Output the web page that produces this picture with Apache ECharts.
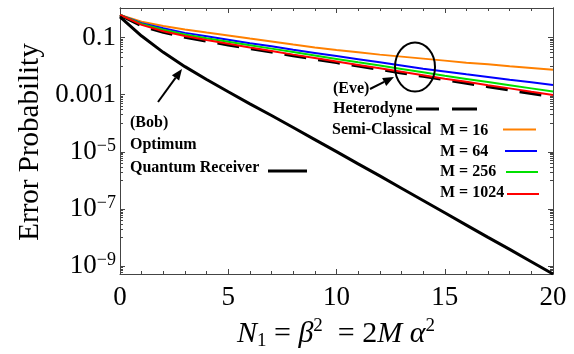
<!DOCTYPE html>
<html><head><meta charset="utf-8">
<script src="https://cdn.jsdelivr.net/npm/echarts@6/dist/echarts.min.js"></script>
<style>html,body{margin:0;padding:0;background:#fff}#c{width:574px;height:354px}</style>
</head><body><div id="c"></div>
<script>
// N1 sample points
const nValues = [0,1,2,3,4,5,6,7,8,9,10,11,12,13,14,15,16,17,18,19,20];
// log10(error probability)
const optimumLog10    = [-0.28,-0.95,-1.52,-2.02,-2.47,-2.90,-3.32,-3.73,-4.15,-4.57,-4.99,-5.42,-5.84,-6.27,-6.70,-7.13,-7.56,-7.99,-8.41,-8.84,-9.27];
const heterodyneLog10 = [-0.22,-0.60,-0.82,-0.99,-1.13,-1.26,-1.39,-1.51,-1.64,-1.76,-1.88,-2.00,-2.12,-2.24,-2.36,-2.48,-2.60,-2.72,-2.84,-2.96,-3.08];
const m16Log10   = [-0.21,-0.45,-0.60,-0.72,-0.83,-0.93,-1.04,-1.14,-1.25,-1.35,-1.44,-1.52,-1.60,-1.67,-1.74,-1.81,-1.88,-1.94,-2.01,-2.07,-2.13];
const m64Log10   = [-0.21,-0.50,-0.68,-0.84,-0.96,-1.08,-1.20,-1.31,-1.43,-1.54,-1.65,-1.76,-1.87,-1.98,-2.09,-2.19,-2.29,-2.38,-2.48,-2.57,-2.66];
const m256Log10  = [-0.21,-0.53,-0.73,-0.90,-1.03,-1.15,-1.27,-1.39,-1.51,-1.63,-1.75,-1.87,-1.98,-2.10,-2.22,-2.34,-2.45,-2.56,-2.67,-2.78,-2.89];
const m1024Log10 = [-0.21,-0.56,-0.78,-0.95,-1.09,-1.22,-1.35,-1.47,-1.60,-1.72,-1.84,-1.96,-2.08,-2.20,-2.32,-2.44,-2.55,-2.67,-2.78,-2.90,-3.01];
// y tick labels (log10 positions and texts)
const yMajorLog10 = [-1,-3,-5,-7,-9];
const yMajorText  = ['0.1','0.001','10|−5','10|−7','10|−9'];
const xTickLabels = ['0','5','10','15','20'];
const legendLabels = ['M = 16','M = 64','M = 256','M = 1024'];
const colors = ['#FF8000','#0000FF','#00E000','#FF0000'];

const Y_MIN = -9.27, Y_MAX = 0.03;
const FONT = '"Liberation Serif", "Times New Roman", serif';
const FRAME = '#444';

// minor ticks: k*10^n for unlabelled decades, plus those decades
const yMinor = [];
[-2,-4,-6,-8,-10].forEach(n => {
  for (let k = 1; k <= 9; k++) {
    const v = n + Math.log10(k);
    if (v >= Y_MIN && v <= Y_MAX) yMinor.push(v);
  }
});

function yFmt(v) {
  let i = yMajorLog10.findIndex(t => Math.abs(t - v) < 1e-6);
  if (i < 0) return '';
  const t = yMajorText[i];
  if (t.indexOf('|') >= 0) { const p = t.split('|'); return '{b|' + p[0] + '}{sup|' + p[1] + '}'; }
  return '{b|' + t + '}';
}

function yAx(pos, custom, len, labels) {
  return {
    type: 'value', min: Y_MIN, max: Y_MAX, position: pos,
    axisLine: { show: true, onZero: false, lineStyle: { color: FRAME, width: 1 } },
    axisTick: { show: true, inside: true, length: len, customValues: custom, lineStyle: { color: FRAME, width: 1 } },
    splitLine: { show: false },
    axisLabel: labels ? {
      show: true, customValues: yMajorLog10, formatter: yFmt, margin: 4, color: '#000',
      rich: {
        b: { fontFamily: FONT, fontSize: 27, lineHeight: 30, color: '#000' },
        sup: { fontFamily: FONT, fontSize: 18, lineHeight: 18, verticalAlign: 'top', color: '#000' }
      }
    } : { show: false }
  };
}
function xAx(pos, labels) {
  return {
    type: 'value', min: 0, max: 20, interval: 5, position: pos,
    axisLine: { show: true, onZero: false, lineStyle: { color: FRAME, width: 1 } },
    axisTick: { show: true, inside: true, length: 5, lineStyle: { color: FRAME, width: 1 } },
    minorTick: { show: true, splitNumber: 5, length: 3, lineStyle: { color: FRAME, width: 1 } },
    splitLine: { show: false },
    axisLabel: labels ? { show: true, fontFamily: FONT, fontSize: 27, color: '#000', margin: 10,
      formatter: v => xTickLabels[Math.round(v / 5)] } : { show: false }
  };
}

function pts(arr) { return nValues.map((x, i) => [x, arr[i]]); }
function line(name, arr, color, width, type, z) {
  return { name, type: 'line', data: pts(arr), xAxisIndex: 0, yAxisIndex: 0, showSymbol: false, symbol: 'none',
    z, lineStyle: { color, width, type }, animation: false, silent: true };
}

const series = [
  line('Heterodyne', heterodyneLog10, '#000', 3, [22, 12], 2),
  line(legendLabels[0], m16Log10, colors[0], 2, 'solid', 3),
  line(legendLabels[1], m64Log10, colors[1], 2, 'solid', 3),
  line(legendLabels[2], m256Log10, colors[2], 2, 'solid', 3),
  line(legendLabels[3], m1024Log10, colors[3], 2, 'solid', 3),
  line('Optimum', optimumLog10, '#000', 3, 'solid', 4)
];

const bold = { fontFamily: FONT, fontSize: 16, fontWeight: 'bold', fill: '#000' };
function txt(t, x, y) { return { type: 'text', style: Object.assign({ text: t, x, y, verticalAlign: 'middle', align: 'left' }, bold), z: 10 }; }
function seg(x1, y1, x2, y2, color, w, dash) { return { type: 'line', shape: { x1, y1, x2, y2 }, style: { stroke: color, lineWidth: w, lineDash: dash || null }, z: 10 }; }
function arrow(x1, y1, x2, y2) {
  const dx = x2 - x1, dy = y2 - y1, L = Math.hypot(dx, dy), ux = dx / L, uy = dy / L;
  const hl = 11, hw = 4.5;
  const bx = x2 - ux * hl, by = y2 - uy * hl;
  return [
    seg(x1, y1, bx, by, '#000', 2),
    { type: 'polygon', shape: { points: [[x2, y2], [bx - uy * hw, by + ux * hw], [bx + uy * hw, by - ux * hw]] }, style: { fill: '#000' }, z: 10 }
  ];
}

const graphic = [
  txt('(Bob)', 130, 123),
  txt('Optimum', 130, 145),
  txt('Quantum Receiver', 130, 168),
  seg(268, 171, 307, 171, '#000', 3),
  ...arrow(158, 102, 182, 69),
  txt('(Eve)', 333, 89),
  ...arrow(370, 89, 394, 77),
  { type: 'ellipse', shape: { cx: 415, cy: 67, rx: 20, ry: 24.5 }, style: { fill: 'none', stroke: '#000', lineWidth: 2 }, z: 10 },
  txt('Heterodyne', 333, 109),
  seg(416, 109, 439, 109, '#000', 3),
  seg(452, 109, 477, 109, '#000', 3),
  txt('Semi-Classical', 332, 130),
  txt(legendLabels[0], 440, 131), seg(503, 129.5, 536, 129.5, colors[0], 2),
  txt(legendLabels[1], 440, 152), seg(505, 151, 537, 151, colors[1], 2),
  txt(legendLabels[2], 440, 172), seg(506, 172, 538, 172, colors[2], 2),
  txt(legendLabels[3], 440, 193), seg(507, 194, 539, 194, colors[3], 2),
  { type: 'text', x: 30, y: 142, rotation: Math.PI / 2,
    style: { text: 'Error Probability', x: 0, y: 0, align: 'center', verticalAlign: 'middle', fontFamily: FONT, fontSize: 29, fill: '#000' } },
  { type: 'text', style: { x: 336, y: 334, align: 'center', verticalAlign: 'middle',
      text: '{i|N}{sub|1}{n| = }{i|β}{sup|2}{n|  = 2}{i|M α}{sup|2}',
      rich: {
        i: { fontFamily: FONT, fontSize: 30, fontStyle: 'italic', lineHeight: 34, fill: '#000' },
        n: { fontFamily: FONT, fontSize: 30, lineHeight: 34, fill: '#000' },
        sup: { fontFamily: FONT, fontSize: 19, lineHeight: 20, verticalAlign: 'top', fill: '#000' },
        sub: { fontFamily: FONT, fontSize: 19, lineHeight: 20, verticalAlign: 'bottom', fill: '#000' }
      } } }
];

const chart = echarts.init(document.getElementById('c'), null, { renderer: 'canvas' });
chart.setOption({
  animation: false,
  backgroundColor: '#fff',
  grid: { left: 120, right: 21, top: 8, bottom: 80, containLabel: false },
  xAxis: [xAx('bottom', true), xAx('top', false)],
  yAxis: [
    yAx('left', yMajorLog10, 5, true),
    yAx('left', yMinor, 3, false),
    yAx('right', yMajorLog10, 5, false),
    yAx('right', yMinor, 3, false)
  ],
  series,
  graphic
});
</script></body></html>
